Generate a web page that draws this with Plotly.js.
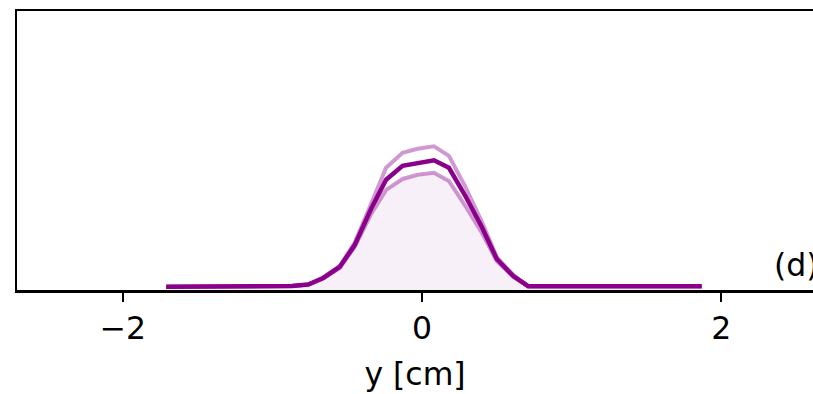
<!DOCTYPE html>
<html>
<head>
<meta charset="utf-8">
<script src="https://cdn.plot.ly/plotly-3.0.1.min.js"></script>
<style>
  html, body { margin: 0; padding: 0; overflow: hidden; background: #fff; }
  #plot { width: 813px; height: 394px; }
</style>
</head>
<body>
<div id="plot"></div>
<script>
// Transverse profile along y, with its upper and lower envelope
const yPos = [-1.71, -1.60, -1.50, -1.39, -1.29, -1.18, -1.08, -0.97, -0.87, -0.76,
              -0.66, -0.55, -0.45, -0.34, -0.24, -0.13, -0.03, 0.08, 0.18, 0.29,
               0.40, 0.50, 0.61, 0.71, 0.82, 0.92, 1.03, 1.13, 1.24, 1.34,
               1.45, 1.55, 1.66, 1.76, 1.87];

const profileMean = [1.15, 1.18, 1.2, 1.22, 1.25, 1.28, 1.32, 1.38, 1.45, 1.97,
                     4.31, 8.25, 16.1, 29.1, 39.5, 44.5, 45.6, 46.5, 43.8, 33.7,
                     22.6, 11.1, 5.0, 1.35, 1.3, 1.3, 1.3, 1.3, 1.3, 1.3,
                     1.3, 1.3, 1.3, 1.3, 1.3];

const profileUpper = [1.15, 1.18, 1.2, 1.22, 1.25, 1.28, 1.32, 1.38, 1.45, 1.97,
                      4.5, 8.6, 16.9, 30.9, 43.8, 49.2, 50.6, 51.5, 48.1, 37.0,
                      24.4, 11.8, 5.4, 1.35, 1.3, 1.3, 1.3, 1.3, 1.3, 1.3,
                      1.3, 1.3, 1.3, 1.3, 1.3];

const profileLower = [1.15, 1.18, 1.2, 1.22, 1.25, 1.28, 1.32, 1.38, 1.45, 1.97,
                      4.1, 7.9, 15.4, 27.3, 35.9, 39.8, 41.3, 42.0, 39.1, 30.1,
                      20.5, 10.4, 4.7, 1.35, 1.3, 1.3, 1.3, 1.3, 1.3, 1.3,
                      1.3, 1.3, 1.3, 1.3, 1.3];

const xTicks = [-2, 0, 2];
const xTickText = ['\u22122', '0', '2'];
const panelLabel = '(d)';

const purple = 'rgb(139,0,139)';
const purpleLight = 'rgba(139,0,139,0.4)';
const purpleFill = 'rgba(139,0,139,0.06)';

const traces = [
  {
    x: yPos, y: profileLower, type: 'scatter', mode: 'lines',
    fill: 'tozeroy', fillcolor: purpleFill,
    line: { color: purpleLight, width: 4 }, hoverinfo: 'skip'
  },
  {
    x: yPos, y: profileUpper, type: 'scatter', mode: 'lines',
    line: { color: purpleLight, width: 4 }, hoverinfo: 'skip'
  },
  {
    x: yPos, y: profileMean, type: 'scatter', mode: 'lines',
    line: { color: purple, width: 4.5 }, hoverinfo: 'skip'
  }
];

const font = { family: 'DejaVu Sans, sans-serif', color: '#000' };
const fs = 31.5;

const layout = {
  width: 813, height: 394,
  margin: { l: 17, r: 0, t: 11, b: 104, pad: 0 },
  paper_bgcolor: '#fff', plot_bgcolor: '#fff',
  showlegend: false,
  font: Object.assign({ size: fs }, font),
  xaxis: {
    range: [-2.707, 2.6136],
    tickmode: 'array', tickvals: xTicks, ticktext: xTickText,
    ticks: 'outside', ticklen: 9, tickwidth: 2, tickcolor: '#000',
    tickfont: Object.assign({ size: fs }, font),
    showline: true, linecolor: '#000', linewidth: 2.5, mirror: true,
    showgrid: false, zeroline: false,
    title: { text: 'y [cm]', font: Object.assign({ size: fs }, font), standoff: 18 }
  },
  yaxis: {
    range: [0, 100],
    showticklabels: false, ticks: '',
    showline: true, linecolor: '#000', linewidth: 2.5, mirror: false,
    showgrid: false, zeroline: false
  },
  annotations: [{
    text: panelLabel, xref: 'x', yref: 'y', x: 2.34, y: 9,
    xanchor: 'left', yanchor: 'middle', showarrow: false,
    font: Object.assign({ size: fs }, font)
  }]
};

Plotly.newPlot('plot', traces, layout, { displayModeBar: false, staticPlot: true });
</script>
</body>
</html>
